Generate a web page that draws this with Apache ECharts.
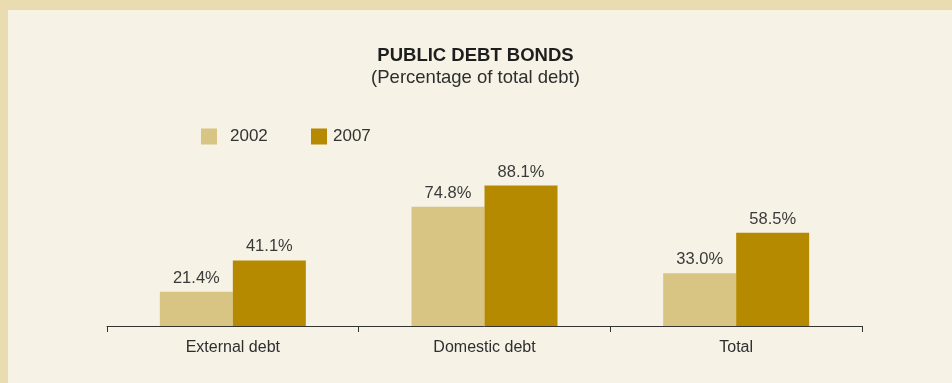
<!DOCTYPE html>
<html>
<head>
<meta charset="utf-8">
<script src="https://cdn.jsdelivr.net/npm/echarts@6/dist/echarts.min.js"></script>
<style>
  html, body { margin: 0; padding: 0; background: #e8dcb0; }
  #frame { width: 952px; height: 383px; box-sizing: border-box; border-left: 8px solid #e8dcb0; border-top: 10px solid #e8dcb0; }
  #chart { width: 944px; height: 373px; background: #f6f2e6; }
</style>
</head>
<body>
<div id="frame"><div id="chart"></div></div>
<script>
// Public debt bonds as a share of total debt
const categories = ['External debt', 'Domestic debt', 'Total'];
const years = ['2002', '2007'];
const values2002 = [21.4, 74.8, 33.0];
const values2007 = [41.1, 88.1, 58.5];

const FONT = '"Liberation Sans", Arial, Helvetica, sans-serif';
const colors = ['#d9c583', '#b58a00'];

const chart = echarts.init(document.getElementById('chart'), null, { renderer: 'canvas' });

function barSeries(name, data, color) {
  return {
    name: name,
    type: 'bar',
    data: data,
    barWidth: 73,
    barGap: '0%',
    itemStyle: { color: color },
    label: {
      show: true,
      position: 'top',
      distance: 5,
      formatter: p => p.value.toFixed(1) + '%',
      fontFamily: FONT,
      fontSize: 16.5,
      color: '#3a3a3a'
    }
  };
}

function legendItem(name, left, textPad) {
  return {
    data: [name],
    left: left,
    top: 113,
    itemWidth: 16,
    itemHeight: 16,
    icon: 'rect',
    selectedMode: false,
    textStyle: { fontFamily: FONT, fontSize: 17, color: '#333', padding: [0, 0, 0, textPad] }
  };
}

chart.setOption({
  animation: false,
  title: {
    text: 'PUBLIC DEBT BONDS',
    subtext: '(Percentage of total debt)',
    left: 462.5,
    top: 31,
    textAlign: 'center',
    itemGap: 3,
    textStyle: { fontFamily: FONT, fontSize: 18.5, fontWeight: 'bold', color: '#1e1e1e' },
    subtextStyle: { fontFamily: FONT, fontSize: 18.5, color: '#2e2e2e' }
  },
  legend: [
    legendItem(years[0], 188, 8),
    legendItem(years[1], 298, 1)
  ],
  grid: { left: 99, right: 90, top: 156.5, bottom: 57 },
  xAxis: {
    type: 'category',
    data: categories,
    axisLine: { lineStyle: { color: '#333', width: 1 } },
    axisTick: { show: true, length: 6, lineStyle: { color: '#333' } },
    axisLabel: { fontFamily: FONT, fontSize: 16, color: '#2e2e2e', margin: 14 }
  },
  yAxis: {
    type: 'value',
    min: 0,
    max: 100,
    show: false
  },
  series: [
    barSeries(years[0], values2002, colors[0]),
    barSeries(years[1], values2007, colors[1])
  ]
});
</script>
</body>
</html>
